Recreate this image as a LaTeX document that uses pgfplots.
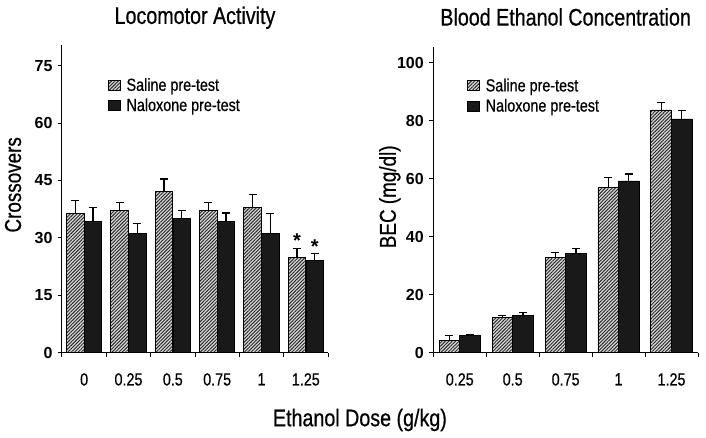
\documentclass[border=0pt]{standalone}
\usepackage{fontspec}
\setmainfont{Liberation Sans}
\newfontfamily\cond{Liberation Sans}[FakeStretch=0.82, RawFeature={embolden=0.6}]
\usepackage{pgfplots}
\pgfplotsset{compat=1.18}
\usetikzlibrary{patterns.meta}

\pgfplotsset{
 myaxis/.style={
   scale only axis, anchor=south west,
   ybar,
   axis x line*=bottom, axis y line*=left,
   axis line style={line width=1pt},
   tick align=outside,
   major tick length=4pt,
   minor tick length=4pt,
   ymin=0,
   /pgf/number format/assume math mode=true,
   yticklabel style={font=\fontsize{16}{18}\selectfont\bfseries, xshift=-2pt},
   xticklabel style={font=\cond\fontsize{17.5}{20}\selectfont, yshift=-13pt},
   major x tick style={draw=none},
   minor x tick style={line width=1pt, black},
   ytick style={line width=1pt, black},
   title style={font=\cond\fontsize{24}{28}\selectfont, at={(0.5,1)}, anchor=center},
   ylabel style={font=\cond\fontsize{23}{26}\selectfont, anchor=center},
   legend style={draw=none, fill=none, font=\cond\fontsize{17.5}{20}\selectfont, row sep=2pt, column sep=4pt, anchor=north west},
   legend cell align=left,
   legend image code/.code={\draw[##1] (0pt,-5pt) rectangle (12pt,5pt);},
   error bars/y dir=plus, error bars/y explicit,
   error bars/error bar style={line width=1.1pt, black},
   error bars/error mark options={rotate=90, mark size=4pt, line width=1.1pt, black},
 },
 salbar/.style={draw=black, line width=0.8pt, fill=black!15, postaction={pattern={Lines[angle=45,distance=2.4pt,line width=0.95pt]}, pattern color=black!85}},
 nalbar/.style={draw=black, line width=0.8pt, fill=black!90},
}

\begin{document}
\begin{tikzpicture}
\path[use as bounding box] (0,0) rectangle (706pt,437pt);

% Left: Locomotor Activity
\begin{axis}[myaxis,
  at={(62pt,84.3pt)}, width=266pt, height=308pt,
  xmin=-0.5, xmax=5.5, ymax=80.5,
  ytick={0,15,30,45,60,75},
  xtick={0,1,2,3,4,5},
  xticklabels={0,0.25,0.5,0.75,1,1.25},
  minor xtick={-0.5,0.5,1.5,2.5,3.5,4.5,5.5},
  bar width=0.395,
  title={Locomotor Activity}, title style={yshift=21pt},
  ylabel={Crossovers}, ylabel style={at={(axis description cs:-0.184,0.545)}},
  xlabel={Ethanol Dose (g/kg)},
  xlabel style={at={(axis description cs:1.12,-0.2185)}, anchor=center, font=\cond\fontsize{24}{28}\selectfont},
  legend style={at={(0.16,0.905)}},
]
\addplot[salbar, bar shift=-0.2] coordinates {
 (0,36.5) +- (0,3.2)
 (1,37.2) +- (0,2.1)
 (2,42.2) +- (0,3.2)
 (3,37.1) +- (0,2.2)
 (4,37.9) +- (0,3.4)
 (5,24.8) +- (0,2.4)
};
\addlegendentry{Saline pre-test}
\addplot[nalbar, bar shift=0.2] coordinates {
 (0,34.4) +- (0,3.5)
 (1,31.1) +- (0,2.7)
 (2,35.1) +- (0,2.1)
 (3,34.3) +- (0,2.2)
 (4,31.1) +- (0,5.3)
 (5,24.1) +- (0,1.9)
};
\addlegendentry{Naloxone pre-test}
\node[font=\fontsize{20}{22}\selectfont\bfseries] at (axis cs:4.8,29.3) {*};
\node[font=\fontsize{20}{22}\selectfont\bfseries] at (axis cs:5.2,27.7) {*};
\end{axis}

% Right: Blood Ethanol Concentration
\begin{axis}[myaxis,
  at={(433.3pt,84.3pt)}, width=264.7pt, height=305.7pt,
  xmin=-0.5, xmax=4.5, ymax=105.4,
  ytick={0,20,40,60,80,100},
  xtick={0,1,2,3,4},
  xticklabels={0.25,0.5,0.75,1,1.25},
  minor xtick={-0.5,0.5,1.5,2.5,3.5,4.5},
  bar width=0.39,
  title={Blood Ethanol Concentration}, title style={yshift=24pt},
  ylabel={BEC (mg/dl)}, ylabel style={at={(axis description cs:-0.164,0.51)}},
  legend style={at={(0.115,0.91)}},
]
\addplot[salbar, bar shift=-0.195] coordinates {
 (0,4.1) +- (0,1.7)
 (1,12.1) +- (0,0.6)
 (2,32.9) +- (0,1.8)
 (3,57.1) +- (0,3.3)
 (4,83.7) +- (0,2.6)
};
\addlegendentry{Saline pre-test}
\addplot[nalbar, bar shift=0.195] coordinates {
 (0,5.8) +- (0,0.5)
 (1,12.8) +- (0,1.0)
 (2,34.1) +- (0,1.7)
 (3,59.2) +- (0,2.4)
 (4,80.6) +- (0,3.0)
};
\addlegendentry{Naloxone pre-test}
\end{axis}
\end{tikzpicture}
\end{document}
